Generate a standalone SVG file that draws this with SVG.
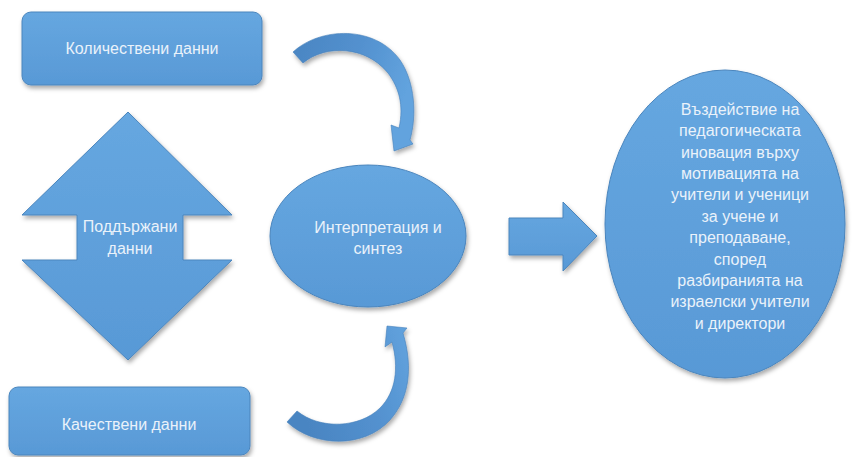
<svg xmlns="http://www.w3.org/2000/svg" width="856" height="457" viewBox="0 0 856 457">
<defs>
<linearGradient id="g" x1="0" y1="0" x2="0" y2="1">
<stop offset="0" stop-color="#66a7e0"/>
<stop offset="1" stop-color="#5899d6"/>
</linearGradient>
<linearGradient id="ca" x1="0" y1="0" x2="1" y2="0.3">
<stop offset="0" stop-color="#4a85c2"/>
<stop offset="0.55" stop-color="#5391cf"/>
<stop offset="1" stop-color="#62a3de"/>
</linearGradient>
<linearGradient id="cb" x1="0" y1="0.3" x2="1" y2="0">
<stop offset="0" stop-color="#4a85c2"/>
<stop offset="0.55" stop-color="#5391cf"/>
<stop offset="1" stop-color="#62a3de"/>
</linearGradient>
<filter id="sh" x="-15%" y="-15%" width="135%" height="140%">
<feDropShadow dx="1.5" dy="3" stdDeviation="2.2" flood-color="#000" flood-opacity="0.33"/>
</filter>
</defs>
<style>
.s{fill:url(#g);stroke:#4a85bd;stroke-width:1;filter:url(#sh)}
.c{stroke:#4580ba;stroke-width:0.6;filter:url(#sh)}
.t{font-family:"Liberation Sans",Arial,sans-serif;font-size:16px;fill:#eaf2fa;text-anchor:middle}
</style>
<rect width="856" height="457" fill="#ffffff"/>
<g id="connectors">
<path class="c" fill="url(#ca)" d="M293,52 C320,27 375,25 400,60 C415,82 417,115 410,140 L413,144 L394,151 L391,125 L399,128 C404,105 399,88 388,73 C366,46 326,44 303,63 Z"/>
<path class="c" fill="url(#cb)" d="M287,422 C315,448 365,448 390,420 C408,400 414,370 403,333 L407,328 L387,326 L385,347 L392,342 C399,368 396,392 380,408 C360,428 320,430 297,411 Z"/>
<path class="s" d="M509,218 L563,218 L563,202 L597,236 L563,271 L563,255 L509,255 Z"/>
</g>
<g id="quant">
<rect class="s" x="22" y="12" width="240" height="73" rx="9"/>
<text class="t" x="142" y="54">Количествени данни</text>
</g>
<g id="qual">
<rect class="s" x="9" y="387" width="241" height="68" rx="9"/>
<text class="t" x="129" y="430">Качествени данни</text>
</g>
<g id="supported">
<path class="s" d="M128,112 L232,215 L183,215 L183,260 L232,260 L128,360 L22,260 L77,260 L77,215 L22,215 Z"/>
<text class="t" x="130" y="232">Поддържани</text>
<text class="t" x="130" y="254">данни</text>
</g>
<g id="interp">
<ellipse class="s" cx="368" cy="236" rx="98" ry="71"/>
<text class="t" x="378" y="233">Интерпретация и</text>
<text class="t" x="378" y="254">синтез</text>
</g>
<g id="impact">
<ellipse class="s" cx="725" cy="224" rx="120" ry="154"/>
<text class="t" x="740" y="115">Въздействие на</text>
<text class="t" x="740" y="136.4">педагогическата</text>
<text class="t" x="740" y="157.7">иновация върху</text>
<text class="t" x="740" y="179">мотивацията на</text>
<text class="t" x="740" y="200.4">учители и ученици</text>
<text class="t" x="740" y="221.8">за учене и</text>
<text class="t" x="740" y="243.1">преподаване,</text>
<text class="t" x="740" y="264.5">според</text>
<text class="t" x="740" y="285.8">разбиранията на</text>
<text class="t" x="740" y="307.2">израелски учители</text>
<text class="t" x="740" y="328.5">и директори</text>
</g>
</svg>
